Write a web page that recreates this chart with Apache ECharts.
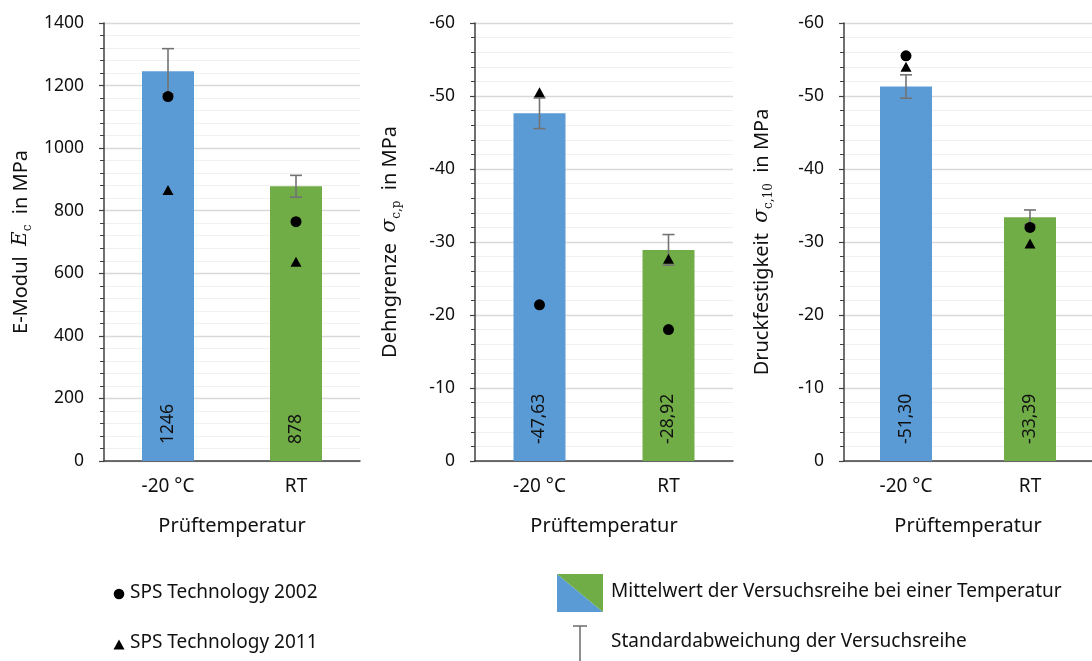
<!DOCTYPE html>
<html>
<head>
<meta charset="utf-8">
<script src="https://cdn.jsdelivr.net/npm/echarts@6/dist/echarts.min.js"></script>
<style>
html,body{margin:0;padding:0;background:#fff;}
#c{width:1092px;height:661px;}
</style>
</head>
<body>
<div id="c"></div>
<script>
// ---- data ----
var categories = ['-20 °C', 'RT'];
// E-Modul (MPa)
var meanE = [1246, 878];
var sdE = [72, 35];
var sps2002E = [1165, 765];
var sps2011E = [866, 637];
// Dehngrenze sigma_c,p (MPa)
var meanP = [-47.63, -28.92];
var sdP = [2.1, 2.1];
var sps2002P = [-21.4, -18.0];
var sps2011P = [-50.5, -27.7];
// Druckfestigkeit sigma_c,10 (MPa)
var meanD = [-51.30, -33.39];
var sdD = [1.6, 1.0];
var sps2002D = [-55.5, -32.0];
var sps2011D = [-54.0, -29.8];
// axis ticks
var yTicksE = {min: 0, max: 1400, interval: 200};
var yTicksS = {min: -60, max: 0, interval: 10};

var barColors = ['#5b9bd5', '#70ad47'];
var FONT = 'Noto Sans';
var SERIF = 'DejaVu Serif';
var errColor = '#737373';

var grids = [
  {left: 104, top: 23, width: 256, height: 438},
  {left: 475, top: 23, width: 258, height: 438},
  {left: 844, top: 23, width: 258, height: 438}
];

function richName() {
  return {
    t: {fontFamily: FONT, fontSize: 20, color: '#111', lineHeight: 26},
    m: {fontFamily: SERIF, fontStyle: 'italic', fontSize: 20, color: '#111', lineHeight: 26},
    s: {fontFamily: SERIF, fontSize: 12, color: '#111', verticalAlign: 'bottom', lineHeight: 18}
  };
}

function xAxisDef(i) {
  return {
    type: 'category', gridIndex: i, data: categories,
    axisTick: {show: false},
    axisLine: {lineStyle: {color: '#404040', width: 1.5}},
    axisLabel: {fontFamily: FONT, fontSize: 19, color: '#111', margin: 16},
    name: 'Prüftemperatur', nameLocation: 'middle', nameGap: 55,
    nameTextStyle: {fontFamily: FONT, fontSize: 20, color: '#111'}
  };
}

function yAxisDef(i, t, inverse, name, gap) {
  return {
    type: 'value', gridIndex: i, min: t.min, max: t.max, interval: t.interval,
    inverse: inverse,
    axisLine: {show: true, lineStyle: {color: '#404040', width: 1.5}},
    axisTick: {show: true, length: 5, lineStyle: {color: '#404040', width: 1.2}},
    minorTick: {show: true, splitNumber: 5, length: 4, lineStyle: {color: '#404040', width: 1}},
    splitLine: {show: true, lineStyle: {color: '#d9d9d9', width: 1.3}},
    minorSplitLine: {show: true, lineStyle: {color: '#f0f0f0', width: 1.2}},
    axisLabel: {fontFamily: FONT, fontSize: 17.5, color: '#111', margin: 20,
      formatter: function (v) { return String(v); }},
    name: name, nameLocation: 'middle', nameGap: gap, nameRotate: 90,
    nameTextStyle: {rich: richName()}
  };
}

function barSeries(i, mean, fmt) {
  return {
    type: 'bar', xAxisIndex: i, yAxisIndex: i, barWidth: 52, z: 2,
    data: mean.map(function (v, k) { return {value: v, itemStyle: {color: barColors[k]}}; }),
    label: {
      show: true, position: 'insideBottom', rotate: 90, distance: 17,
      align: 'left', verticalAlign: 'middle',
      fontFamily: FONT, fontSize: 17.5, color: '#111',
      formatter: function (p) { return fmt(p.value); }
    },
    silent: true
  };
}

function errSeries(i, mean, sd) {
  return {
    type: 'custom', xAxisIndex: i, yAxisIndex: i, z: 3, silent: true,
    data: mean.map(function (v, k) { return [k, v + sd[k], v - sd[k]]; }),
    renderItem: function (params, api) {
      var hi = api.coord([api.value(0), api.value(1)]);
      var lo = api.coord([api.value(0), api.value(2)]);
      var hw = 6;
      var st = {stroke: errColor, lineWidth: 1.6};
      return {
        type: 'group',
        children: [
          {type: 'line', shape: {x1: hi[0], y1: hi[1], x2: lo[0], y2: lo[1]}, style: st},
          {type: 'line', shape: {x1: hi[0] - hw, y1: hi[1], x2: hi[0] + hw, y2: hi[1]}, style: st},
          {type: 'line', shape: {x1: lo[0] - hw, y1: lo[1], x2: lo[0] + hw, y2: lo[1]}, style: st}
        ]
      };
    }
  };
}

function markerSeries(i, data, symbol, size, name) {
  return {
    type: 'scatter', name: name, xAxisIndex: i, yAxisIndex: i, z: 4, silent: true,
    symbol: symbol, symbolSize: size,
    itemStyle: {color: '#000', opacity: 1},
    data: data.map(function (v, k) { return [k, v]; })
  };
}

var fmtInt = function (v) { return String(v); };
var fmtDec = function (v) { return v.toFixed(2).replace('.', ','); };

var series = [
  barSeries(0, meanE, fmtInt), errSeries(0, meanE, sdE),
  markerSeries(0, sps2002E, 'circle', 11, 'SPS Technology 2002'),
  markerSeries(0, sps2011E, 'triangle', [11, 10], 'SPS Technology 2011'),
  barSeries(1, meanP, fmtDec), errSeries(1, meanP, sdP),
  markerSeries(1, sps2002P, 'circle', 11, 'SPS Technology 2002'),
  markerSeries(1, sps2011P, 'triangle', [11, 10], 'SPS Technology 2011'),
  barSeries(2, meanD, fmtDec), errSeries(2, meanD, sdD),
  markerSeries(2, sps2002D, 'circle', 11, 'SPS Technology 2002'),
  markerSeries(2, sps2011D, 'triangle', [11, 10], 'SPS Technology 2011')
];

var legendFont = {fontFamily: FONT, fontSize: 19, fill: '#111'};
function ltext(x, y, s) {
  return {type: 'text', x: x, y: y, style: Object.assign({text: s, textVerticalAlign: 'middle', textAlign: 'left'}, legendFont), silent: true};
}

var graphic = [
  {type: 'circle', shape: {cx: 119, cy: 594, r: 5.3}, style: {fill: '#000'}, silent: true},
  ltext(130, 593, 'SPS Technology 2002'),
  {type: 'polygon', shape: {points: [[119, 639.5], [113.5, 649.5], [124.5, 649.5]]}, style: {fill: '#000'}, silent: true},
  ltext(130, 643, 'SPS Technology 2011'),
  {type: 'polygon', shape: {points: [[557, 574], [557, 612], [603, 612]]}, style: {fill: barColors[0]}, silent: true},
  {type: 'polygon', shape: {points: [[557, 574], [603, 574], [603, 612]]}, style: {fill: barColors[1]}, silent: true},
  ltext(611, 592, 'Mittelwert der Versuchsreihe bei einer Temperatur'),
  {type: 'line', shape: {x1: 580, y1: 626, x2: 580, y2: 661}, style: {stroke: errColor, lineWidth: 1.6}, silent: true},
  {type: 'line', shape: {x1: 573, y1: 626, x2: 587, y2: 626}, style: {stroke: errColor, lineWidth: 1.6}, silent: true},
  ltext(611, 642, 'Standardabweichung der Versuchsreihe')
];

var chart = echarts.init(document.getElementById('c'), null, {renderer: 'canvas'});
chart.setOption({
  animation: false,
  backgroundColor: '#fff',
  textStyle: {fontFamily: FONT},
  grid: grids,
  xAxis: [xAxisDef(0), xAxisDef(1), xAxisDef(2)],
  yAxis: [
    yAxisDef(0, yTicksE, false, '{t|E-Modul  }{m|E}{s|c}{t|  in MPa}', 70),
    yAxisDef(1, yTicksS, true, '{t|Dehngrenze  }{m|σ}{s|c,p}{t|  in MPa}', 72),
    yAxisDef(2, yTicksS, true, '{t|Druckfestigkeit  }{m|σ}{s|c,10}{t|  in MPa}', 69)
  ],
  series: series,
  graphic: graphic
});
</script>
</body>
</html>
